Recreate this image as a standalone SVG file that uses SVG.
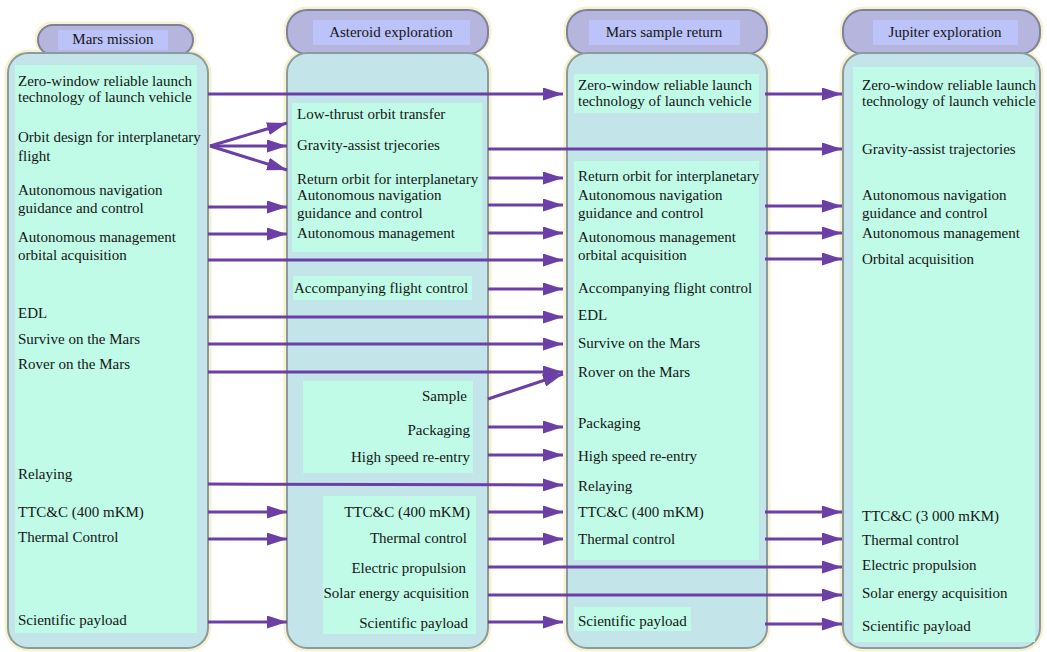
<svg xmlns="http://www.w3.org/2000/svg" width="1047" height="652" viewBox="0 0 1047 652">
<defs>
<marker id="ah" markerUnits="userSpaceOnUse" markerWidth="20" markerHeight="13" refX="20" refY="6.5" orient="auto">
<path d="M0,0 L20,6.5 L0,13 Z" fill="#6b3fa6"/>
</marker>
<style>
.glow{fill:none;stroke:#f7f1cf;stroke-width:7}
.body{fill:#c3e5e9;stroke:#8b9a9c;stroke-width:2}
.pill{fill:#b5b5de;stroke:#7c809c;stroke-width:2}
.lab{fill:#bcc3f8}
.grn{fill:#c0fbe7}
text{font-family:"Liberation Serif","Times New Roman",serif;font-size:15px;fill:#151515}
.hd{text-anchor:middle}
.r{text-anchor:end}
.cn line,.cn path{stroke:#6b3fa6;stroke-width:3;fill:none;marker-end:url(#ah)}
.cg line{stroke:#f6efcc;stroke-width:8;opacity:0.7}
</style>
</defs>
<rect x="0" y="0" width="1047" height="652" fill="#ffffff"/>

<g id="mars-mission">
<rect class="glow" x="8" y="53" width="200" height="595" rx="20"/>
<rect class="glow" x="38" y="25" width="155" height="28" rx="14"/>
<rect class="pill" x="38" y="25" width="155" height="30" rx="15"/>
<rect class="lab" x="58" y="30" width="110" height="20"/>
<text class="hd" x="113" y="44">Mars mission</text>
<rect class="body" x="8" y="53" width="200" height="595" rx="20"/>
<rect class="grn" x="15" y="65" width="182" height="568"/>
<text x="18" y="86">Zero-window reliable launch</text>
<text x="18" y="102">technology of launch vehicle</text>
<text x="18" y="142">Orbit design for interplanetary</text>
<text x="18" y="161">flight</text>
<text x="18" y="195">Autonomous navigation</text>
<text x="18" y="213">guidance and control</text>
<text x="18" y="242">Autonomous management</text>
<text x="18" y="260">orbital acquisition</text>
<text x="18" y="318">EDL</text>
<text x="18" y="344">Survive on the Mars</text>
<text x="18" y="369">Rover on the Mars</text>
<text x="18" y="479">Relaying</text>
<text x="18" y="517">TTC&amp;C (400 mKM)</text>
<text x="18" y="542">Thermal Control</text>
<text x="18" y="625">Scientific payload</text>
</g>

<g id="asteroid-exploration">
<rect class="glow" x="287" y="53" width="201" height="595" rx="20"/>
<rect class="glow" x="287" y="10" width="201" height="43" rx="20"/>
<rect class="pill" x="287" y="10" width="201" height="44" rx="20"/>
<rect class="lab" x="313" y="20" width="157" height="25"/>
<text class="hd" x="391" y="37">Asteroid exploration</text>
<rect class="body" x="287" y="53" width="201" height="595" rx="20"/>
<rect class="grn" x="292" y="103" width="190" height="149"/>
<rect class="grn" x="293" y="276" width="179" height="24"/>
<rect class="grn" x="303" y="381" width="170" height="92"/>
<rect class="grn" x="323" y="496" width="153" height="138"/>
<text x="297" y="119">Low-thrust orbit transfer</text>
<text x="297" y="150">Gravity-assist trjecories</text>
<text x="297" y="184">Return orbit for interplanetary</text>
<text x="297" y="200">Autonomous navigation</text>
<text x="297" y="218">guidance and control</text>
<text x="297" y="238">Autonomous management</text>
<text x="294" y="293">Accompanying flight control</text>
<text class="r" x="467" y="401">Sample</text>
<text class="r" x="470" y="435">Packaging</text>
<text class="r" x="470" y="462">High speed re-entry</text>
<text class="r" x="470" y="517">TTC&amp;C (400 mKM)</text>
<text class="r" x="467" y="543">Thermal control</text>
<text class="r" x="466" y="573">Electric propulsion</text>
<text class="r" x="469" y="598">Solar energy acquisition</text>
<text class="r" x="468" y="628">Scientific payload</text>
</g>

<g id="mars-sample-return">
<rect class="glow" x="567" y="53" width="200" height="595" rx="20"/>
<rect class="glow" x="567" y="10" width="200" height="43" rx="20"/>
<rect class="pill" x="567" y="10" width="200" height="44" rx="20"/>
<rect class="lab" x="589" y="20" width="151" height="25"/>
<text class="hd" x="664" y="37">Mars sample return</text>
<rect class="body" x="567" y="53" width="200" height="595" rx="20"/>
<rect class="grn" x="574" y="74" width="185" height="39"/>
<rect class="grn" x="574" y="161" width="185" height="399"/>
<rect class="grn" x="574" y="607" width="117" height="24"/>
<text x="578" y="90">Zero-window reliable launch</text>
<text x="578" y="106">technology of launch vehicle</text>
<text x="578" y="181">Return orbit for interplanetary</text>
<text x="578" y="200">Autonomous navigation</text>
<text x="578" y="218">guidance and control</text>
<text x="578" y="242">Autonomous management</text>
<text x="578" y="260">orbital acquisition</text>
<text x="578" y="293">Accompanying flight control</text>
<text x="578" y="320">EDL</text>
<text x="578" y="348">Survive on the Mars</text>
<text x="578" y="377">Rover on the Mars</text>
<text x="578" y="428">Packaging</text>
<text x="578" y="461">High speed re-entry</text>
<text x="578" y="491">Relaying</text>
<text x="578" y="517">TTC&amp;C (400 mKM)</text>
<text x="578" y="544">Thermal control</text>
<text x="578" y="626">Scientific payload</text>
</g>

<g id="jupiter-exploration">
<rect class="glow" x="843" y="53" width="197" height="595" rx="20"/>
<rect class="glow" x="843" y="10" width="197" height="43" rx="20"/>
<rect class="pill" x="843" y="10" width="197" height="44" rx="20"/>
<rect class="lab" x="873" y="20" width="145" height="25"/>
<text class="hd" x="945" y="37">Jupiter exploration</text>
<rect class="body" x="843" y="53" width="197" height="595" rx="20"/>
<rect class="grn" x="853" y="67" width="182" height="575"/>
<text x="862" y="90">Zero-window reliable launch</text>
<text x="862" y="106">technology of launch vehicle</text>
<text x="862" y="154">Gravity-assist trajectories</text>
<text x="862" y="200">Autonomous navigation</text>
<text x="862" y="218">guidance and control</text>
<text x="862" y="238">Autonomous management</text>
<text x="862" y="264">Orbital acquisition</text>
<text x="862" y="521">TTC&amp;C (3 000 mKM)</text>
<text x="862" y="545">Thermal control</text>
<text x="862" y="570">Electric propulsion</text>
<text x="862" y="598">Solar energy acquisition</text>
<text x="862" y="631">Scientific payload</text>
</g>

<g id="connectors" class="cn">
<line x1="208" y1="94" x2="563" y2="94"/>
<line x1="765" y1="94" x2="842" y2="94"/>
<line x1="210" y1="146" x2="287" y2="123"/>
<line x1="210" y1="146" x2="287" y2="146"/>
<line x1="210" y1="146" x2="287" y2="170"/>
<line x1="488" y1="149" x2="842" y2="149"/>
<line x1="488" y1="178" x2="563" y2="178"/>
<line x1="208" y1="207" x2="287" y2="207"/>
<line x1="488" y1="205" x2="563" y2="205"/>
<line x1="765" y1="206" x2="842" y2="206"/>
<line x1="208" y1="234" x2="287" y2="234"/>
<line x1="488" y1="233" x2="563" y2="233"/>
<line x1="765" y1="233" x2="842" y2="233"/>
<line x1="208" y1="260" x2="563" y2="260"/>
<line x1="765" y1="259" x2="842" y2="259"/>
<line x1="488" y1="289" x2="563" y2="289"/>
<line x1="208" y1="317" x2="563" y2="317"/>
<line x1="208" y1="344" x2="563" y2="344"/>
<line x1="208" y1="372" x2="563" y2="372"/>
<line x1="488" y1="399" x2="563" y2="374"/>
<line x1="488" y1="427" x2="563" y2="427"/>
<line x1="488" y1="455" x2="563" y2="455"/>
<line x1="208" y1="484" x2="563" y2="485"/>
<line x1="208" y1="512" x2="287" y2="512"/>
<line x1="488" y1="512" x2="563" y2="512"/>
<line x1="765" y1="512" x2="842" y2="512"/>
<line x1="208" y1="539" x2="287" y2="539"/>
<line x1="488" y1="539" x2="563" y2="539"/>
<line x1="765" y1="539" x2="842" y2="539"/>
<line x1="488" y1="567" x2="842" y2="567"/>
<line x1="488" y1="595" x2="842" y2="595"/>
<line x1="208" y1="622" x2="287" y2="622"/>
<line x1="488" y1="622" x2="563" y2="622"/>
<line x1="765" y1="624" x2="842" y2="624"/>
</g>
</svg>
